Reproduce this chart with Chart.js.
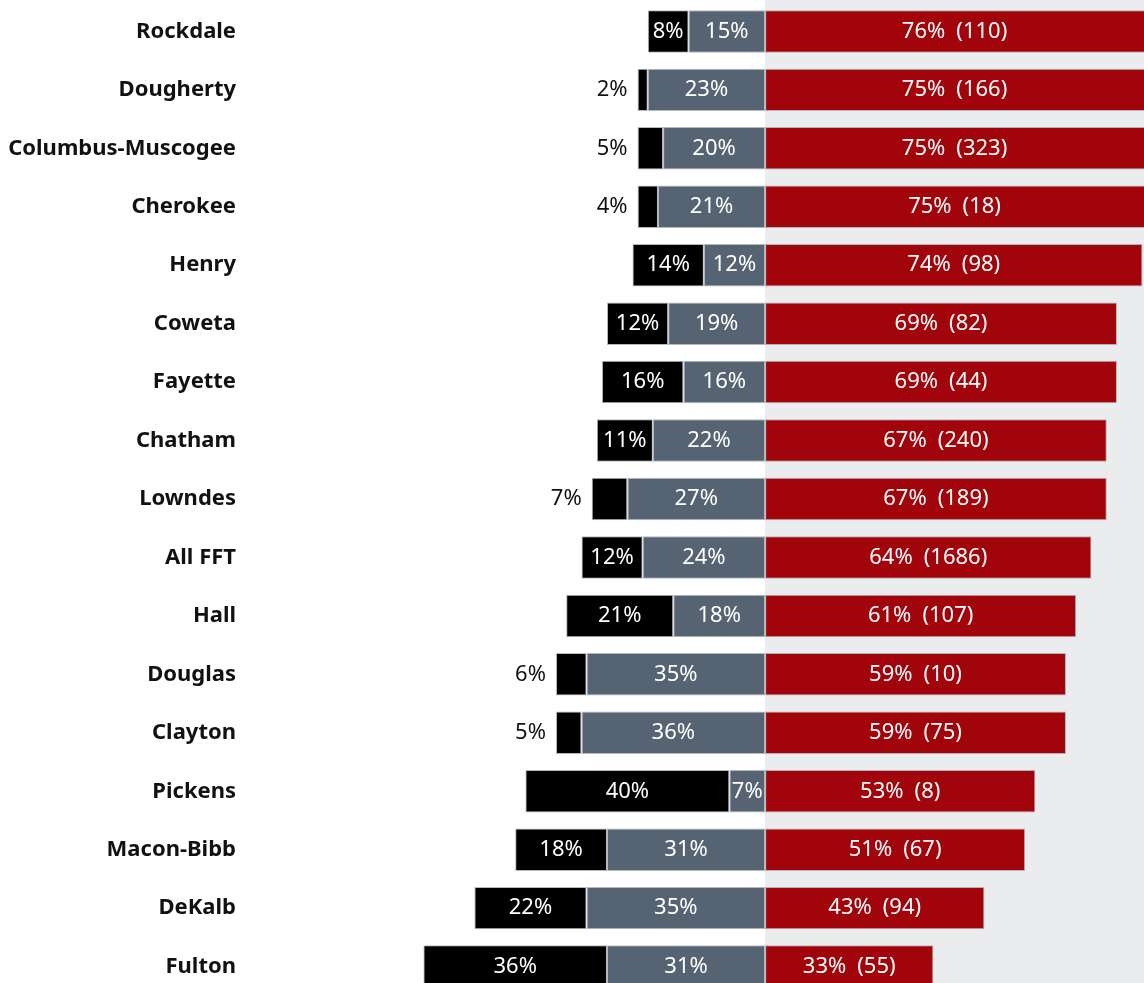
<!DOCTYPE html>
<html>
<head>
<meta charset="utf-8">
<script src="https://cdn.jsdelivr.net/npm/chart.js@4"></script>
<style>
  html, body { margin: 0; padding: 0; background: #fff; overflow: hidden; }
  #wrap { position: relative; width: 1144px; height: 1048px; margin-top: -25px; }
</style>
</head>
<body>
<div id="wrap"><canvas id="chart"></canvas></div>
<script>
// County rows, top to bottom
const counties = [
  "Rockdale", "Dougherty", "Columbus-Muscogee", "Cherokee", "Henry", "Coweta",
  "Fayette", "Chatham", "Lowndes", "All FFT", "Hall", "Douglas", "Clayton",
  "Pickens", "Macon-Bibb", "DeKalb", "Fulton"
];
// Share of cases per outcome (%)
const blackShare = [8, 2, 5, 4, 14, 12, 16, 11, 7, 12, 21, 6, 5, 40, 18, 22, 36];
const grayShare = [15, 23, 20, 21, 12, 19, 16, 22, 27, 24, 18, 35, 36, 7, 31, 35, 31];
const redShare = [76, 75, 75, 75, 74, 69, 69, 67, 67, 64, 61, 59, 59, 53, 51, 43, 33];
// Case counts shown next to the red share
const caseCount = [110, 166, 323, 18, 98, 82, 44, 240, 189, 1686, 107, 10, 75, 8, 67, 94, 55];

const FONT = "'Noto Sans', 'DejaVu Sans', sans-serif";

// light panel behind the positive side
const panelBg = {
  id: "panelBg",
  beforeDatasetsDraw(chart) {
    const ctx = chart.ctx;
    const x0 = chart.scales.x.getPixelForValue(0);
    ctx.save();
    ctx.fillStyle = "#ebecee";
    ctx.fillRect(x0, 0, chart.width - x0, chart.height);
    ctx.restore();
  }
};

// percentage labels on every segment
const segLabels = {
  id: "segLabels",
  afterDatasetsDraw(chart) {
    const ctx = chart.ctx;
    const area = chart.chartArea;
    ctx.save();
    ctx.font = "22px " + FONT;
    ctx.textBaseline = "middle";
    chart.data.datasets.forEach((ds, di) => {
      const meta = chart.getDatasetMeta(di);
      meta.data.forEach((bar, i) => {
        const v = Math.abs(ds.data[i]);
        const left = Math.min(bar.x, bar.base);
        const right = Math.min(Math.max(bar.x, bar.base), area.right);
        let text = v + "%";
        if (ds.key === "red") text = v + "%\u2002(" + caseCount[i] + ")";
        if (ds.key === "black" && v < 8) {
          ctx.fillStyle = "#111";
          ctx.textAlign = "right";
          ctx.fillText(text, left - 10, bar.y);
        } else {
          ctx.fillStyle = "#fff";
          ctx.textAlign = "center";
          ctx.fillText(text, (left + right) / 2, bar.y);
        }
      });
    });
    ctx.restore();
  }
};

const common = {
  borderWidth: 1,
  borderColor: "rgba(150,155,165,0.7)",
  borderSkipped: false,
  barPercentage: 0.727,
  categoryPercentage: 1
};

new Chart(document.getElementById("chart"), {
  type: "bar",
  data: {
    labels: counties,
    datasets: [
      { key: "gray", data: grayShare.map(v => -v), backgroundColor: "#566372", ...common },
      { key: "black", data: blackShare.map(v => -v), backgroundColor: "#000000", ...common },
      { key: "red", data: redShare, backgroundColor: "#a1050b", ...common }
    ]
  },
  options: {
    indexAxis: "y",
    responsive: true,
    maintainAspectRatio: false,
    animation: false,
    layout: { padding: { top: 2, right: 0, bottom: 2, left: 0 } },
    plugins: {
      legend: { display: false },
      tooltip: { enabled: false }
    },
    scales: {
      x: {
        stacked: true,
        min: -101,
        max: 74.3,
        display: false
      },
      y: {
        stacked: true,
        afterFit(scale) { scale.width = 250; },
        grid: { display: false, drawTicks: false },
        border: { display: false },
        ticks: {
          padding: 14,
          color: "#111",
          font: { family: FONT, size: 22, weight: "bold" }
        }
      }
    }
  },
  plugins: [panelBg, segLabels]
});
</script>
</body>
</html>
